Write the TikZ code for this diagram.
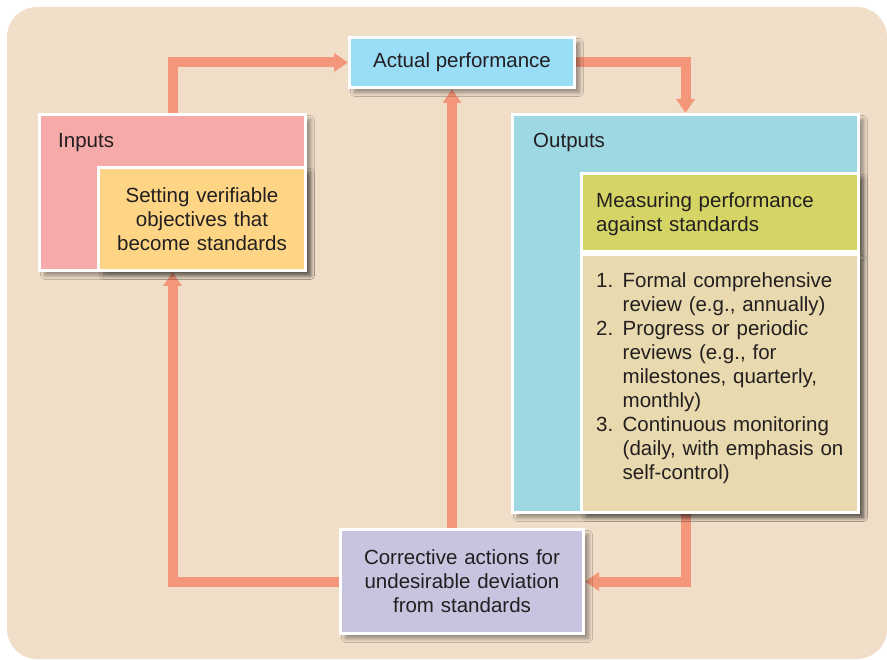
\documentclass[tikz,border=0pt]{standalone}
\usepackage{fontspec}
\setmainfont{Liberation Sans}
\usepackage{xcolor}
\usetikzlibrary{arrows.meta,positioning,shadows.blur,backgrounds}

\definecolor{panelbg}{HTML}{F0DEC9}
\definecolor{flowcol}{HTML}{F4967A}
\definecolor{inputcol}{HTML}{F6AAAA}
\definecolor{settingcol}{HTML}{FDD585}
\definecolor{actualcol}{HTML}{99DDF7}
\definecolor{outputcol}{HTML}{9ED8E3}
\definecolor{measurecol}{HTML}{D5D566}
\definecolor{reviewcol}{HTML}{E8D9AE}
\definecolor{correctcol}{HTML}{C8C4E0}
\definecolor{inkcol}{HTML}{231F20}

\newcommand{\numitem}[2]{\par\noindent\hangindent=26.5pt\hangafter=1\makebox[26.5pt][l]{#1}#2}

\tikzset{
  box/.style={draw=white, line width=3pt, inner sep=0pt, text=inkcol,
    blur shadow={shadow xshift=5pt, shadow yshift=-5pt, shadow blur radius=4pt,
      shadow blur steps=10, shadow opacity=40}},
  flow/.style={draw=flowcol, line width=10pt, -{Triangle[width=18pt,length=14pt]}},
  txt/.style={inner sep=0pt, text=inkcol}
}

\begin{document}
\begin{tikzpicture}[x=1pt,y=-1pt,font=\fontsize{20.5}{24}\selectfont]
\useasboundingbox (0,0) rectangle (887,660);

% boxes
\node[box, fill=actualcol, minimum width=225, minimum height=50] (actual) at (462,62.5) {Actual performance};
\node[box, fill=inputcol, minimum width=266, minimum height=156] (inputs) at (172.5,192.5) {};
\node[box, fill=settingcol, minimum width=207, minimum height=103, text width=207, align=center] (setting) at (202,219)
  {Setting verifiable\\objectives that\\become standards};
\node[box, fill=outputcol, minimum width=346, minimum height=398] (outputs) at (685.5,313.5) {};
\node[box, fill=measurecol, minimum width=277, minimum height=78] (measure) at (720,212.5) {};
\node[box, fill=reviewcol, minimum width=277, minimum height=258] (review) at (720,383.5) {};
\node[box, fill=correctcol, minimum width=243, minimum height=104, text width=243, align=center] (corrective) at (462,581.5)
  {Corrective actions for\\undesirable deviation\\from standards};

% labels
\node[txt, anchor=base west] (inputslbl) at (58,148) {Inputs};
\node[txt, anchor=base west] (outputslbl) at (533,148) {Outputs};
\node[txt, anchor=west, text width=246, align=left] (measurelbl) at (596,214.5)
  {Measuring performance\\against standards};
\node[txt, anchor=north west, text width=255] (reviewlist) at (596,263) {%
  \numitem{1.}{Formal comprehensive\newline review (e.g., annually)}
  \numitem{2.}{Progress or periodic\newline reviews (e.g., for\newline milestones, quarterly,\newline monthly)}
  \numitem{3.}{Continuous monitoring\newline (daily, with emphasis on\newline self-control)}\par};

% connectors
\begin{scope}[on background layer]
\fill[panelbg, rounded corners=30pt] (7,7) rectangle (887,659);
\draw[flow] (inputs.north) |- (actual.west);
\draw[flow] (actual.east) -| (outputs.north);
\draw[flow] (outputs.south) |- (corrective.east);
\draw[flow] (corrective.west) -| (inputs.south);
\draw[flow] ([xshift=-10pt]corrective.north) -- ([xshift=-10pt]actual.south);
\end{scope}
\end{tikzpicture}
\end{document}
